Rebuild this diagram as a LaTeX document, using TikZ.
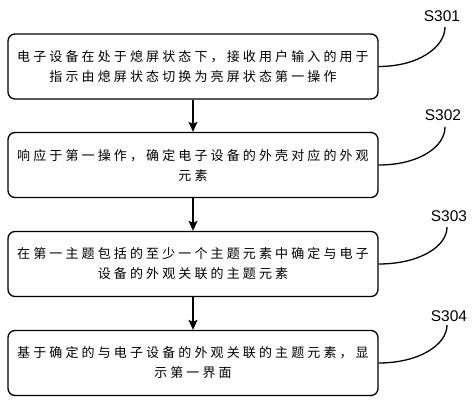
\documentclass[tikz,border=0pt]{standalone}
\usepackage{fontspec}
\setmainfont{Liberation Sans}
\newfontfamily\cjk[LetterSpace=24]{Noto Sans CJK SC}
\usetikzlibrary{arrows.meta}
\begin{document}
\begin{tikzpicture}[x=1pt,y=-1pt,
  stepbox/.style={draw, line width=1.3pt, rounded corners=7pt, minimum width=370pt, minimum height=65pt,
    align=center, inner sep=0pt, font=\cjk\fontsize{13pt}{20pt}\selectfont},
  steplabel/.style={font=\fontsize{15.5pt}{18pt}\selectfont, inner sep=0pt},
  flow/.style={line width=1.3pt, -{Stealth[length=10pt,width=9pt,inset=2pt]}},
  lead/.style={line width=1.3pt}]
\useasboundingbox (0,0) rectangle (474,403);
\node[stepbox] (b1) at (193,66.5) {电子设备在处于熄屏状态下，接收用户输入的用于\\指示由熄屏状态切换为亮屏状态第一操作};
\node[stepbox] (b2) at (193,165) {响应于第一操作，确定电子设备的外壳对应的外观\\元素};
\node[stepbox] (b3) at (193,264) {在第一主题包括的至少一个主题元素中确定与电子\\设备的外观关联的主题元素};
\node[stepbox] (b4) at (193,363) {基于确定的与电子设备的外观关联的主题元素，显\\示第一界面};
\node[steplabel] (s1) at (442,16) {S301};
\node[steplabel] (s2) at (443,115) {S302};
\node[steplabel] (s3) at (449,216) {S303};
\node[steplabel] (s4) at (449,316) {S304};
\coordinate (e1) at (445,27);
\coordinate (e2) at (445,127);
\coordinate (e3) at (447,227);
\coordinate (e4) at (447,325);
\draw[flow] (b1) -- (b2);
\draw[flow] (b2) -- (b3);
\draw[flow] (b3) -- (b4);
\draw[lead] (b1.east) .. controls +(40,0) and +(0,20) .. (e1);
\draw[lead] (b2.east) .. controls +(40,0) and +(0,20) .. (e2);
\draw[lead] (b3.east) .. controls +(40,0) and +(0,20) .. (e3);
\draw[lead] (b4.east) .. controls +(40,0) and +(0,20) .. (e4);
\end{tikzpicture}
\end{document}
